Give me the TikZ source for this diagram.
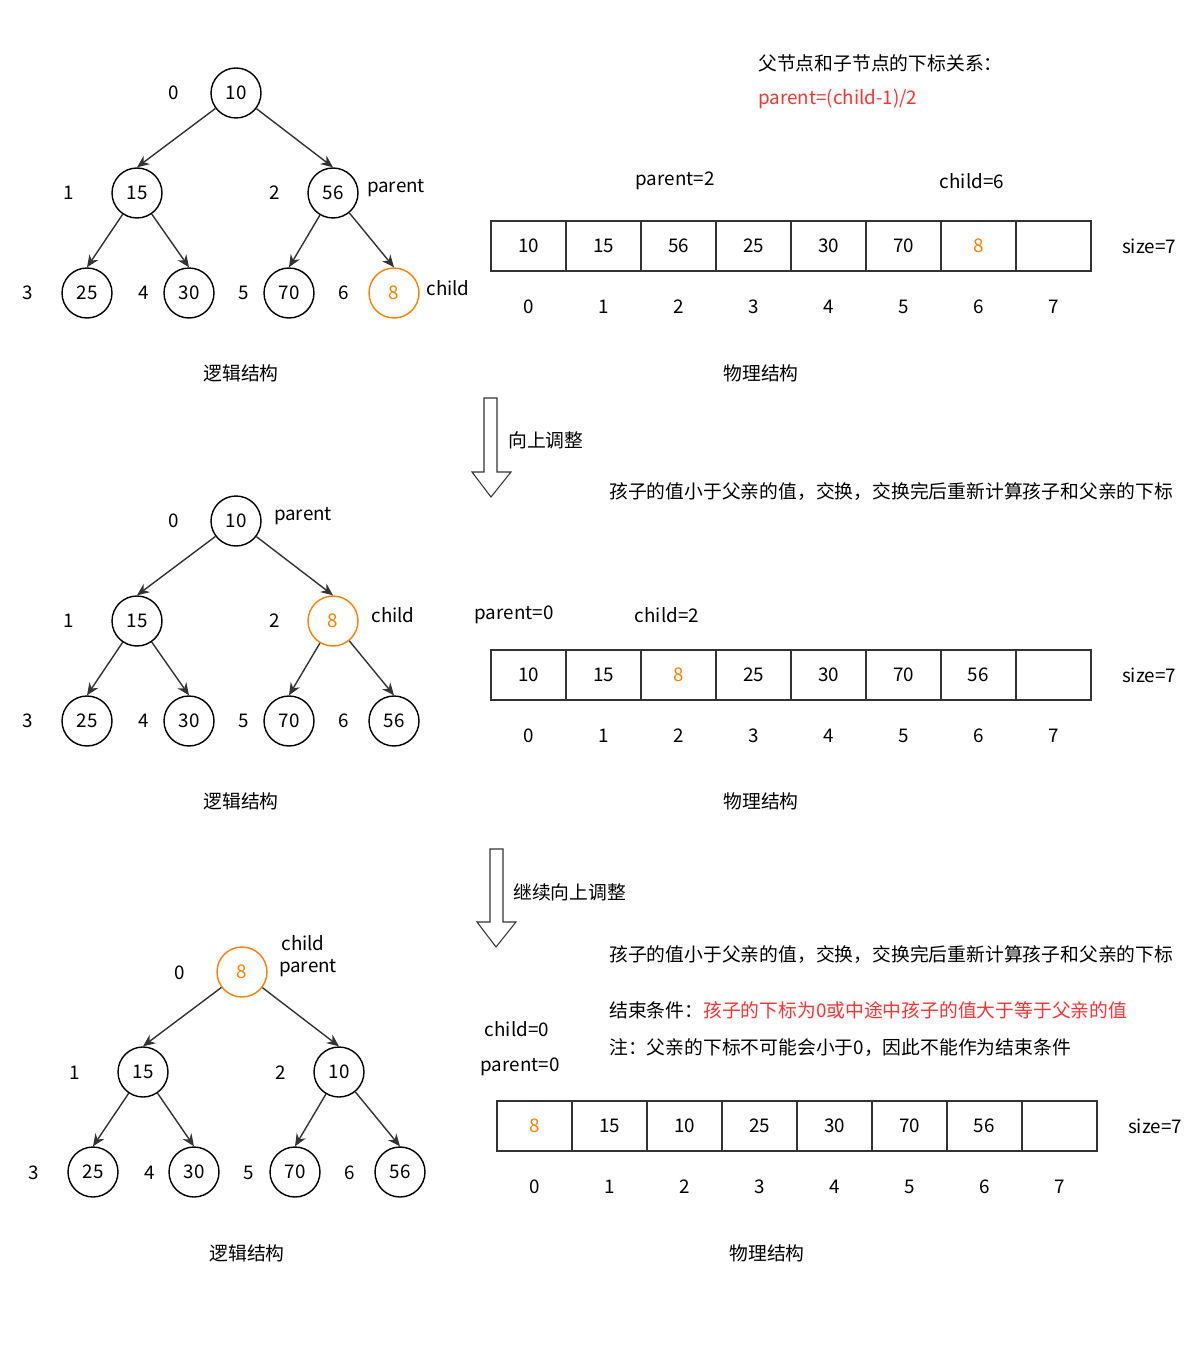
\documentclass[tikz,border=0pt]{standalone}
\usepackage{fontspec}
\setmainfont{Noto Sans CJK SC}
\usetikzlibrary{arrows.meta,positioning}
\definecolor{naranja}{HTML}{FF8000}
\definecolor{rojo}{HTML}{FF3333}
\tikzset{
    heapnode/.style={
        circle,                   % nodo del árbol: círculo
        draw=black,               % borde negro
        line width=0.8pt,         % trazo fino pero visible
        minimum size=1cm,         % diámetro fijo
        inner sep=0pt
    },
    hotnode/.style={
        heapnode,                 % mismo círculo...
        draw=naranja,             % ...pero resaltado en naranja
        text=naranja
    },
    cell/.style={
        rectangle,                % casilla del arreglo
        draw=black!80,
        line width=0.8pt,
        minimum width=1.5cm,      % ancho de cada casilla
        minimum height=1cm,
        inner sep=0pt,
        outer sep=0pt             % casillas pegadas sin hueco
    },
    idx/.style={
        inner sep=2pt             % etiquetas de índice, sin borde
    },
    heapedge/.style={
        -{Stealth[length=7pt,width=6pt]}, % flecha rellena tipo "classic"
        draw=black!80,
        line width=0.8pt
    },
    bigarrow/.style={
        draw=black!80,            % flecha hueca entre pasos
        fill=white,
        line width=0.6pt
    }
}
\begin{document}
\begin{tikzpicture}[x=0.02cm, y=-0.02cm, every node/.style={font=\fontsize{10.7pt}{13pt}\selectfont}]
\useasboundingbox (0,0) rectangle (1201,1348);

% ---------- paso 1 ----------
\node[anchor=west] (rel) at (752,63) {父节点和子节点的下标关系：};
\node[anchor=west, text=rojo] (formula) at (752,99) {parent=(child-1)/2};

\node[heapnode] (t1n0) at (236,93) {10};
\node[heapnode] (t1n1) at (137,193) {15};
\node[heapnode] (t1n2) at (333,193) {56};
\node[heapnode] (t1n3) at (87,293) {25};
\node[heapnode] (t1n4) at (189,293) {30};
\node[heapnode] (t1n5) at (289,293) {70};
\node[hotnode] (t1n6) at (394,293) {8};
\node[idx] (t1i0) at (174,93) {0};
\node[idx] (t1i1) at (69,193) {1};
\node[idx] (t1i2) at (275,193) {2};
\node[idx] (t1i3) at (28,293) {3};
\node[idx] (t1i4) at (144,293) {4};
\node[idx] (t1i5) at (244,293) {5};
\node[idx] (t1i6) at (344,293) {6};
\node (t1par) at (396,188) {parent};
\node (t1chi) at (448,288) {child};
\draw[heapedge] (t1n0) -- (t1n1.north);
\draw[heapedge] (t1n0) -- (t1n2.north);
\draw[heapedge] (t1n1) -- (t1n3.north);
\draw[heapedge] (t1n1) -- (t1n4.north);
\draw[heapedge] (t1n2) -- (t1n5.north);
\draw[heapedge] (t1n2) -- (t1n6.north);
\node (t1log) at (241,373) {逻辑结构};

\node (a1par) at (675,181) {parent=2};
\node (a1chi) at (972,181) {child=6};
\node[cell] (a10) at (528.5,246) {10};
\node[cell, right=0pt of a10] (a11) {15};
\node[cell, right=0pt of a11] (a12) {56};
\node[cell, right=0pt of a12] (a13) {25};
\node[cell, right=0pt of a13] (a14) {30};
\node[cell, right=0pt of a14] (a15) {70};
\node[cell, right=0pt of a15, text=naranja] (a16) {8};
\node[cell, right=0pt of a16] (a17) {};
\node[right=0.5cm of a17] (a1size) {size=7};
\node[idx, below=0.5cm of a10] (a1i0) {0};
\node[idx, below=0.5cm of a11] (a1i1) {1};
\node[idx, below=0.5cm of a12] (a1i2) {2};
\node[idx, below=0.5cm of a13] (a1i3) {3};
\node[idx, below=0.5cm of a14] (a1i4) {4};
\node[idx, below=0.5cm of a15] (a1i5) {5};
\node[idx, below=0.5cm of a16] (a1i6) {6};
\node[idx, below=0.5cm of a17] (a1i7) {7};
\node (a1fis) at (761,373) {物理结构};

\draw[bigarrow] (484,398) -- (497,398) -- (497,472) -- (511,472) -- (491,497) -- (472,472) -- (484,472) -- cycle;
\node[anchor=west] (paso1) at (502,440) {向上调整};
\node[anchor=west] (expl1) at (603,492) {孩子的值小于父亲的值，交换，交换完后重新计算孩子和父亲的下标};

% ---------- paso 2 ----------
\node[heapnode] (t2n0) at (236,521) {10};
\node[heapnode] (t2n1) at (137,621) {15};
\node[hotnode] (t2n2) at (333,621) {8};
\node[heapnode] (t2n3) at (87,721) {25};
\node[heapnode] (t2n4) at (189,721) {30};
\node[heapnode] (t2n5) at (289,721) {70};
\node[heapnode] (t2n6) at (394,721) {56};
\node[idx] (t2i0) at (174,521) {0};
\node[idx] (t2i1) at (69,621) {1};
\node[idx] (t2i2) at (275,621) {2};
\node[idx] (t2i3) at (28,721) {3};
\node[idx] (t2i4) at (144,721) {4};
\node[idx] (t2i5) at (244,721) {5};
\node[idx] (t2i6) at (344,721) {6};
\node (t2par) at (303,516) {parent};
\node (t2chi) at (393,615) {child};
\draw[heapedge] (t2n0) -- (t2n1.north);
\draw[heapedge] (t2n0) -- (t2n2.north);
\draw[heapedge] (t2n1) -- (t2n3.north);
\draw[heapedge] (t2n1) -- (t2n4.north);
\draw[heapedge] (t2n2) -- (t2n5.north);
\draw[heapedge] (t2n2) -- (t2n6.north);
\node (t2log) at (241,801) {逻辑结构};

\node (a2par) at (514,615) {parent=0};
\node (a2chi) at (667,615) {child=2};
\node[cell] (a20) at (528.5,675) {10};
\node[cell, right=0pt of a20] (a21) {15};
\node[cell, right=0pt of a21, text=naranja] (a22) {8};
\node[cell, right=0pt of a22] (a23) {25};
\node[cell, right=0pt of a23] (a24) {30};
\node[cell, right=0pt of a24] (a25) {70};
\node[cell, right=0pt of a25] (a26) {56};
\node[cell, right=0pt of a26] (a27) {};
\node[right=0.5cm of a27] (a2size) {size=7};
\node[idx, below=0.5cm of a20] (a2i0) {0};
\node[idx, below=0.5cm of a21] (a2i1) {1};
\node[idx, below=0.5cm of a22] (a2i2) {2};
\node[idx, below=0.5cm of a23] (a2i3) {3};
\node[idx, below=0.5cm of a24] (a2i4) {4};
\node[idx, below=0.5cm of a25] (a2i5) {5};
\node[idx, below=0.5cm of a26] (a2i6) {6};
\node[idx, below=0.5cm of a27] (a2i7) {7};
\node (a2fis) at (761,801) {物理结构};

\draw[bigarrow] (490,849) -- (503,849) -- (503,922) -- (516,922) -- (496,947) -- (477,922) -- (490,922) -- cycle;
\node[anchor=west] (paso2) at (507,892) {继续向上调整};
\node[anchor=west] (expl2) at (603,955) {孩子的值小于父亲的值，交换，交换完后重新计算孩子和父亲的下标};
\node[anchor=west] (fin) at (603,1010) {结束条件：\textcolor{rojo}{孩子的下标为0或中途中孩子的值大于等于父亲的值}};
\node[anchor=west] (nota) at (603,1048) {注：父亲的下标不可能会小于0，因此不能作为结束条件};

% ---------- paso 3 ----------
\node[hotnode] (t3n0) at (242,972) {8};
\node[heapnode] (t3n1) at (143,1072) {15};
\node[heapnode] (t3n2) at (339,1072) {10};
\node[heapnode] (t3n3) at (93,1172) {25};
\node[heapnode] (t3n4) at (194,1172) {30};
\node[heapnode] (t3n5) at (295,1172) {70};
\node[heapnode] (t3n6) at (400,1172) {56};
\node[idx] (t3i0) at (180,973) {0};
\node[idx] (t3i1) at (75,1073) {1};
\node[idx] (t3i2) at (281,1073) {2};
\node[idx] (t3i3) at (34,1173) {3};
\node[idx] (t3i4) at (150,1173) {4};
\node[idx] (t3i5) at (249,1173) {5};
\node[idx] (t3i6) at (350,1173) {6};
\node (t3chi) at (303,943) {child};
\node (t3par) at (308,968) {parent};
\draw[heapedge] (t3n0) -- (t3n1.north);
\draw[heapedge] (t3n0) -- (t3n2.north);
\draw[heapedge] (t3n1) -- (t3n3.north);
\draw[heapedge] (t3n1) -- (t3n4.north);
\draw[heapedge] (t3n2) -- (t3n5.north);
\draw[heapedge] (t3n2) -- (t3n6.north);
\node (t3log) at (247,1253) {逻辑结构};

\node (a3chi) at (517,1029) {child=0};
\node (a3par) at (520,1067) {parent=0};
\node[cell, text=naranja] (a30) at (534.5,1126) {8};
\node[cell, right=0pt of a30] (a31) {15};
\node[cell, right=0pt of a31] (a32) {10};
\node[cell, right=0pt of a32] (a33) {25};
\node[cell, right=0pt of a33] (a34) {30};
\node[cell, right=0pt of a34] (a35) {70};
\node[cell, right=0pt of a35] (a36) {56};
\node[cell, right=0pt of a36] (a37) {};
\node[right=0.5cm of a37] (a3size) {size=7};
\node[idx, below=0.5cm of a30] (a3i0) {0};
\node[idx, below=0.5cm of a31] (a3i1) {1};
\node[idx, below=0.5cm of a32] (a3i2) {2};
\node[idx, below=0.5cm of a33] (a3i3) {3};
\node[idx, below=0.5cm of a34] (a3i4) {4};
\node[idx, below=0.5cm of a35] (a3i5) {5};
\node[idx, below=0.5cm of a36] (a3i6) {6};
\node[idx, below=0.5cm of a37] (a3i7) {7};
\node (a3fis) at (767,1253) {物理结构};
\end{tikzpicture}
\end{document}
